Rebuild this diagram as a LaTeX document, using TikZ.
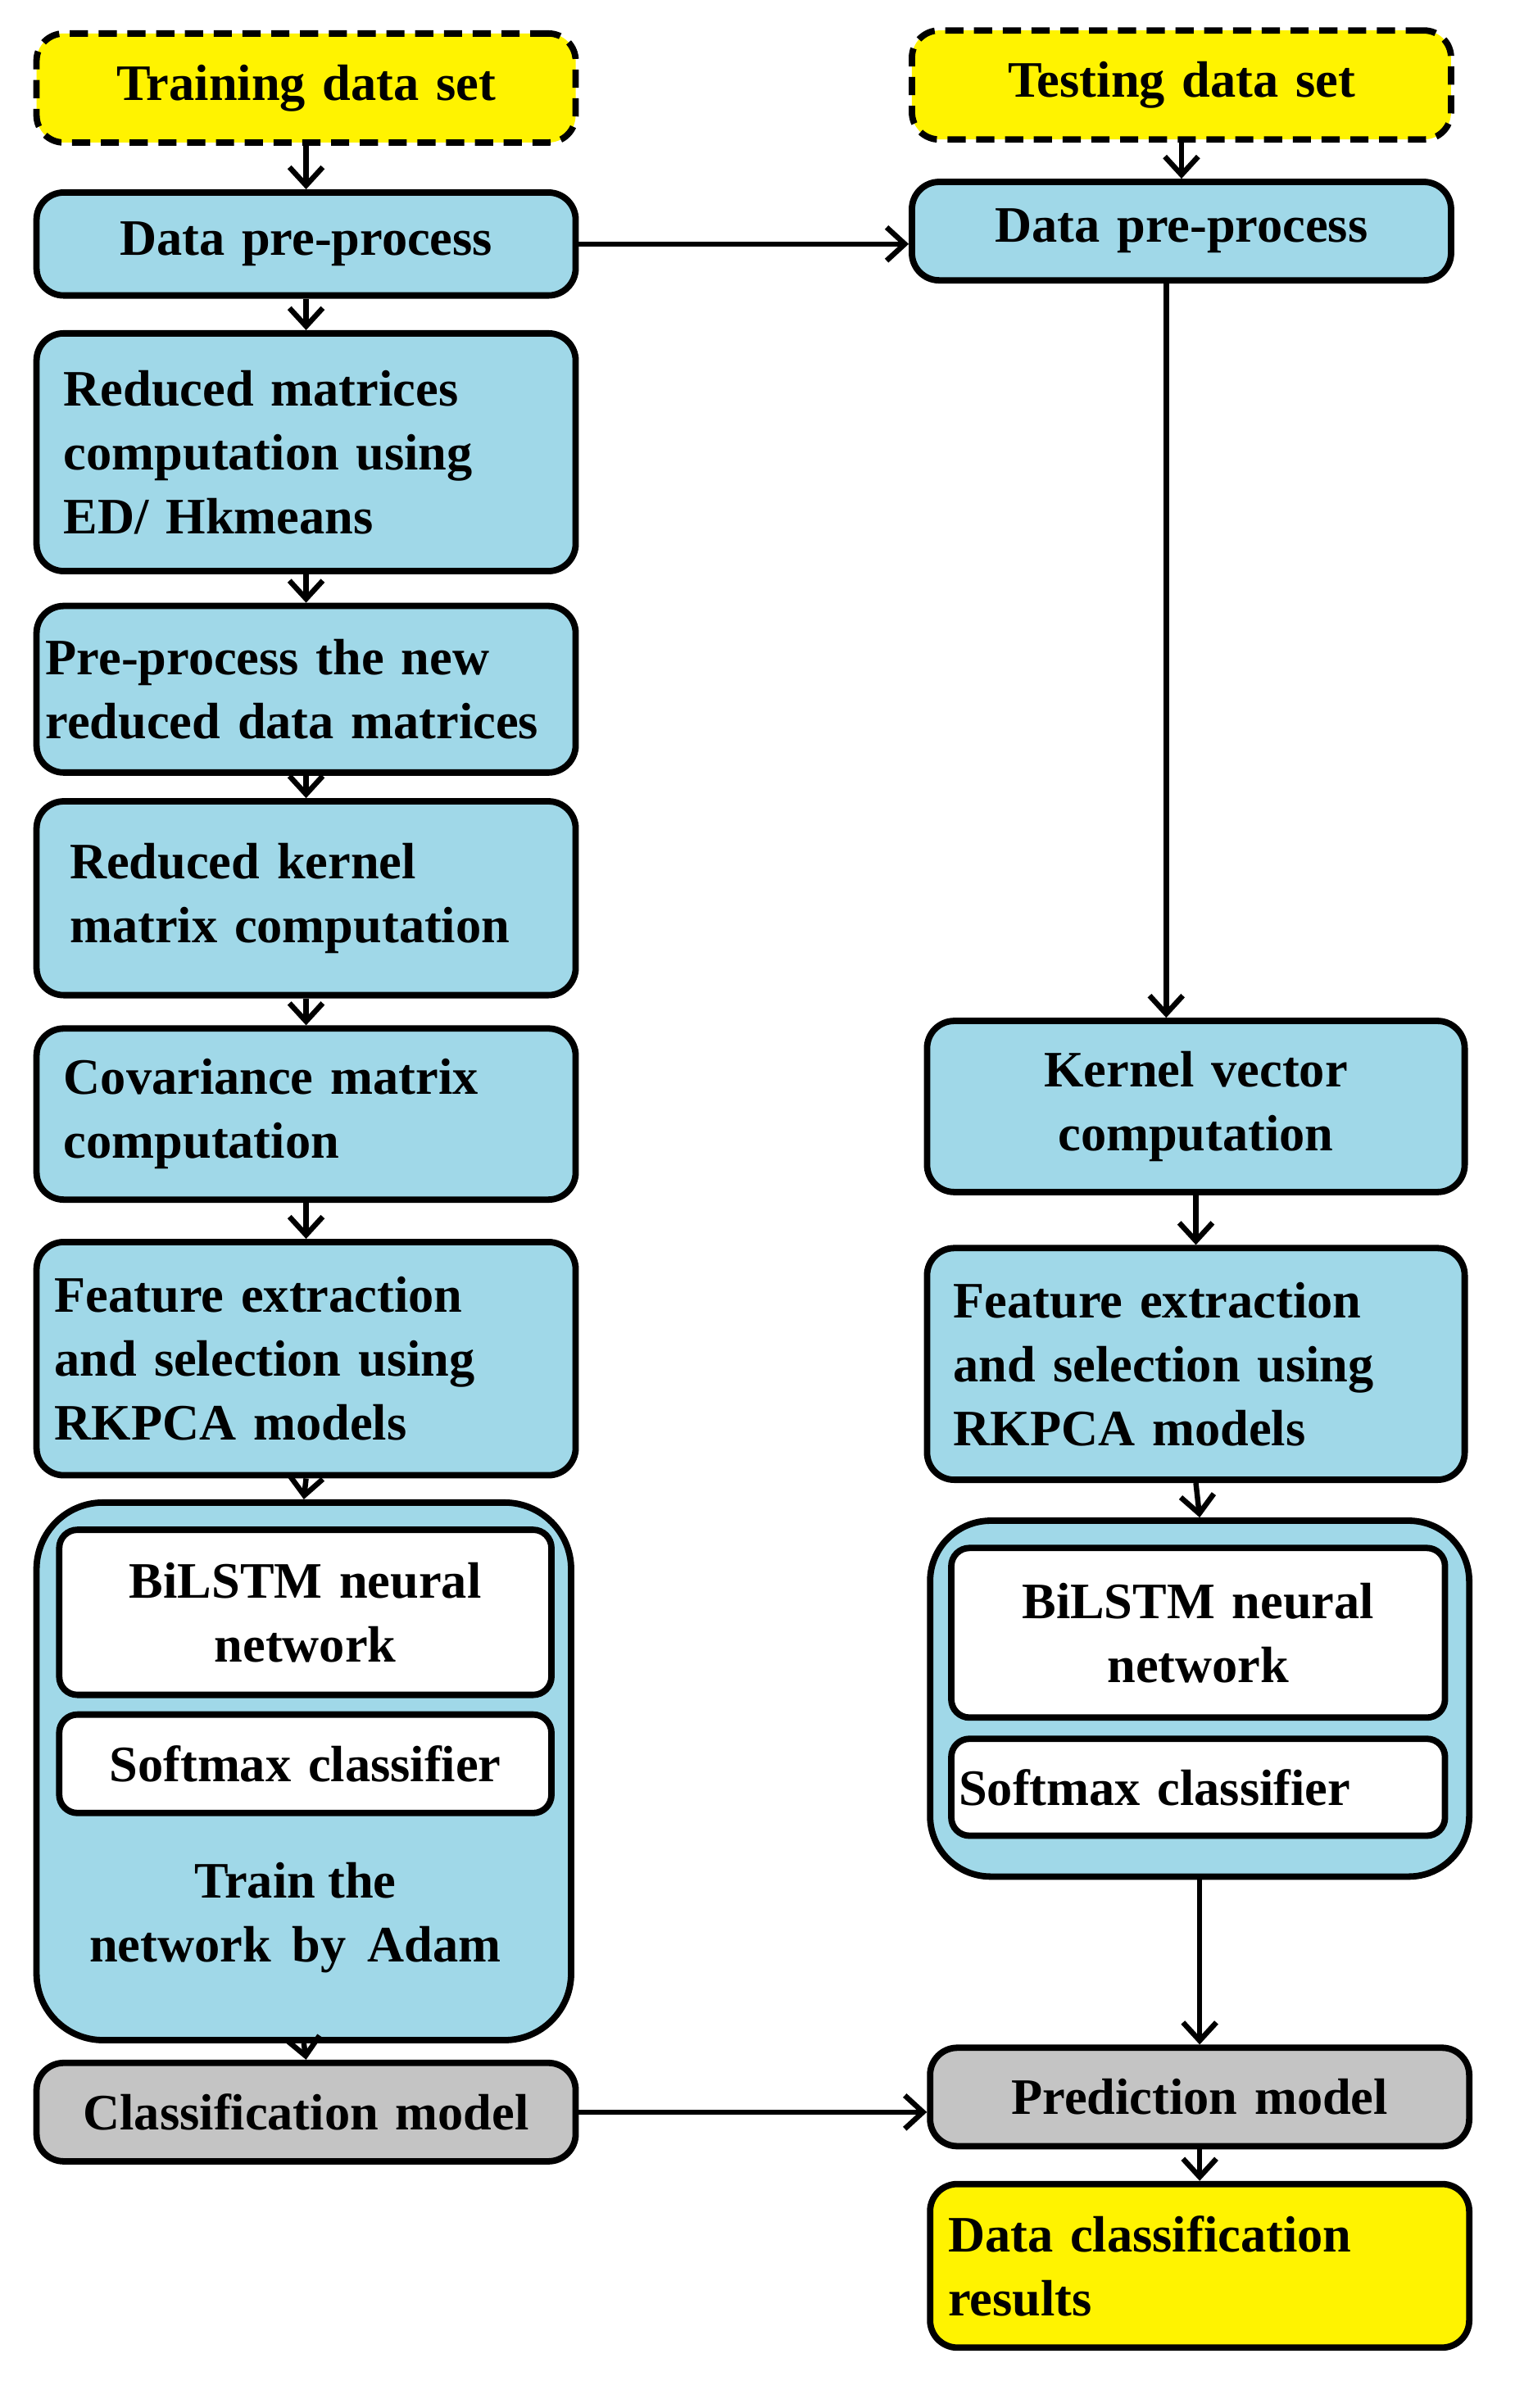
\documentclass[tikz,border=0pt]{standalone}
\usepackage{fontspec}
\setmainfont{Liberation Serif}
\usetikzlibrary{arrows.meta}
\definecolor{cb}{RGB}{160,216,232}
\definecolor{yl}{RGB}{255,243,0}
\definecolor{gr}{RGB}{196,196,196}
\begin{document}
\begin{tikzpicture}[x=0.05cm,y=-0.05cm,
 box/.style={draw=black,line width=6pt,rounded corners=0.9cm,fill=cb,anchor=north west,
   align=left,inner sep=0pt,font=\fontsize{48}{60}\selectfont\bfseries},
 wb/.style={box,fill=white,rounded corners=0.6cm},
 arr/.style={line width=5pt,-{Straight Barb[length=0.6cm,width=1.1cm]}}]
\useasboundingbox[fill=white] (0,0) rectangle (1000,1590);
% left column
\node[box,fill=yl,dashed,dash pattern=on 0.6cm off 0.35cm,minimum width=17.8cm,minimum height=3.6cm,text width=17.8cm,align=center] (tr) at (22,20) {Training data set};
\node[box,minimum width=17.8cm,minimum height=3.4cm,text width=17.8cm,align=center] (dl) at (22,125) {Data pre-process};
\node[box,minimum width=17.8cm,minimum height=7.85cm,text width=16cm] (rm) at (22,218) {Reduced matrices\\computation using\\ED/ Hkmeans};
\node[box,minimum width=17.8cm,minimum height=5.5cm,text width=17.2cm] (pp) at (22,398) {Pre-process the new\\reduced data matrices};
\node[box,minimum width=17.8cm,minimum height=6.4cm,text width=15.6cm] (rk) at (22,527) {Reduced kernel\\ matrix computation};
\node[box,minimum width=17.8cm,minimum height=5.65cm,text width=16cm] (cv) at (22,677) {Covariance matrix\\computation};
\node[box,minimum width=17.8cm,minimum height=7.7cm,text width=16.6cm] (fl) at (22,818) {Feature extraction\\and selection using\\RKPCA models};
\node[box,rounded corners=2.2cm,minimum width=17.65cm,minimum height=17.75cm] (cl) at (22,990) {};
\node[wb,minimum width=16.25cm,minimum height=5.45cm,text width=16.25cm,align=center] (bl) at (37,1008) {BiLSTM neural\\network};
\node[wb,minimum width=16.25cm,minimum height=3.25cm,text width=16.25cm,align=center] (sl) at (37,1130) {Softmax classifier};
\node[font=\fontsize{48}{60}\selectfont\bfseries,align=center] (ta) at (195,1266) {Train the\\network\, by\, Adam};
\node[box,fill=gr,minimum width=17.8cm,minimum height=3.25cm,text width=17.8cm,align=center] (cm) at (22,1360) {Classification model};
% right column
\node[box,fill=yl,dashed,dash pattern=on 0.6cm off 0.35cm,minimum width=17.8cm,minimum height=3.6cm,text width=17.8cm,align=center] (te) at (600,18) {Testing data set};
\node[box,minimum width=17.8cm,minimum height=3.25cm,text width=17.8cm,align=center] (dr) at (600,118) {Data pre-process};
\node[box,minimum width=17.75cm,minimum height=5.65cm,text width=16cm,align=center] (kv) at (610,672) {Kernel vector\\computation\hspace*{1.2cm}};
\node[box,minimum width=17.75cm,minimum height=7.65cm,text width=16cm] (fr) at (610,822) {Feature extraction\\and selection using\\RKPCA models};
\node[box,rounded corners=2cm,minimum width=17.8cm,minimum height=11.75cm] (cr) at (612,1002) {};
\node[wb,minimum width=16.3cm,minimum height=5.6cm,text width=16.3cm,align=center] (br) at (626,1020) {BiLSTM neural\\network};
\node[wb,minimum width=16.3cm,minimum height=3.2cm,text width=15.8cm] (sr) at (626,1146) {Softmax classifier};
\node[box,fill=gr,minimum width=17.8cm,minimum height=3.25cm,text width=17.8cm,align=center] (pm) at (612,1350) {Prediction model};
\node[box,fill=yl,minimum width=17.8cm,minimum height=5.4cm,text width=16.6cm] (dc) at (612,1440) {Data classification\\results};
% arrows
\draw[arr] (tr.south) -- (dl.north);
\draw[arr] (dl.south) -- (rm.north);
\draw[arr] (rm.south) -- (pp.north);
\draw[arr] (pp.south) -- (rk.north);
\draw[arr] (rk.south) -- (cv.north);
\draw[arr] (cv.south) -- (fl.north);
\draw[arr] (fl.south) -- (cl.north);
\draw[arr] (cl.south) -- (cm.north);
\draw[arr] (dl.east) -- (dl.east -| dr.west);
\draw[arr] (te.south) -- (dr.north);
\draw[arr] (dr.south -| 770,0) -- (kv.north -| 770,0);
\draw[arr] (kv.south) -- (fr.north);
\draw[arr] (fr.south) -- (cr.north);
\draw[arr] (cr.south) -- (pm.north);
\draw[arr] (cm.east) -- (cm.east -| pm.west);
\draw[arr] (pm.south) -- (dc.north);
\end{tikzpicture}
\end{document}
